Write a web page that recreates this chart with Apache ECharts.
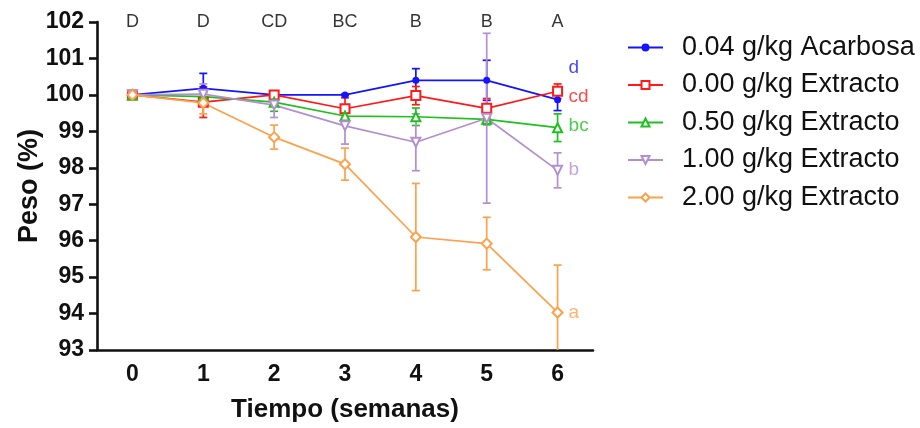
<!DOCTYPE html>
<html lang="es">
<head>
    <meta charset="UTF-8">
    <title>Peso (%)</title>
    <script src="https://cdn.jsdelivr.net/npm/echarts@6/dist/echarts.min.js"></script>
</head>
<body style="margin:0;background:#fff;">

<div id="main" style="width: 920px;height:428px;"></div>

<script type="text/javascript">
    // semanas
    var weeks = ['0', '1', '2', '3', '4', '5', '6'];
    var groupNames = ['0.04 g/kg Acarbosa', '0.00 g/kg Extracto', '0.50 g/kg Extracto', '1.00 g/kg Extracto', '2.00 g/kg Extracto'];

    // peso medio (%) y error de cada grupo
    var acarbosa = [100, 100.18, 100, 100, 100.4, 100.4, 99.87];
    var acarbosaErr = [0, 0.41, 0.02, 0.02, 0.32, 0.55, 0.3];
    var ext000 = [100, 99.8, 100, 99.62, 99.98, 99.63, 100.1];
    var ext000Err = [0, 0.42, 0.05, 0.3, 0.25, 0.27, 0.2];
    var ext050 = [100, 99.95, 99.8, 99.42, 99.4, 99.33, 99.1];
    var ext050Err = [0, 0.1, 0.25, 0.2, 0.24, 0.15, 0.38];
    var ext100 = [100, 100.02, 99.72, 99.15, 98.7, 99.36, 97.93];
    var ext100Err = [0, 0.28, 0.34, 0.5, 0.78, 2.33, 0.48];
    var ext200 = [100, 99.78, 98.84, 98.1, 96.1, 95.92, 94.03];
    var ext200Err = [0, 0.3, 0.33, 0.44, 1.47, 0.72, 1.3];

    // letras de significancia
    var weekLetters = ['D', 'D', 'CD', 'BC', 'B', 'B', 'A'];
    var groupLetters = ['d', 'cd', 'bc', 'b', 'a'];
    var groupLetterY = [100.74, 99.94, 99.15, 97.94, 94.01];

    var means = [acarbosa, ext000, ext050, ext100, ext200];
    var errs = [acarbosaErr, ext000Err, ext050Err, ext100Err, ext200Err];
    var colors = ['#1414ff', '#ff1a1a', '#1ec01e', '#b48ed2', '#ffa04a'];
    var symbols = ['circle', 'emptyRect', 'emptyTriangle', 'emptyTriangle', 'emptyDiamond'];
    var symbolSizes = [7, 9, 9, 9, 10];
    var symbolRotates = [0, 0, 0, 180, 0];

    var font = 'Liberation Sans, Arial, sans-serif';

    var myChart = echarts.init(document.getElementById('main'));

    var series = [];

    // barras de error
    for (var g = 0; g < means.length; g++) {
        var errData = [];
        for (var i = 0; i < weeks.length; i++) {
            errData.push([i, means[g][i] - errs[g][i], means[g][i] + errs[g][i]]);
        }
        series.push({
            type: 'custom',
            name: groupNames[g] + ' err',
            clip: true,
            z: 2,
            data: errData,
            renderItem: (function (col) {
                return function (params, api) {
                    var lo = api.coord([api.value(0), api.value(1)]);
                    var hi = api.coord([api.value(0), api.value(2)]);
                    var w = 4;
                    var st = {stroke: col, lineWidth: 1.7};
                    return {
                        type: 'group',
                        children: [
                            {type: 'line', shape: {x1: lo[0], y1: lo[1], x2: hi[0], y2: hi[1]}, style: st},
                            {type: 'line', shape: {x1: lo[0] - w, y1: lo[1], x2: lo[0] + w, y2: lo[1]}, style: st},
                            {type: 'line', shape: {x1: hi[0] - w, y1: hi[1], x2: hi[0] + w, y2: hi[1]}, style: st}
                        ]
                    };
                };
            })(colors[g])
        });
    }

    // lineas
    for (var g = 0; g < means.length; g++) {
        series.push({
            type: 'line',
            name: groupNames[g],
            data: means[g],
            color: colors[g],
            symbol: symbols[g],
            symbolSize: symbolSizes[g],
            symbolRotate: symbolRotates[g],
            showAllSymbol: true,
            z: 3,
            lineStyle: {width: 1.7, color: colors[g]},
            itemStyle: {color: colors[g], borderWidth: 1.5}
        });
    }

    // letras arriba
    series.push({
        type: 'scatter',
        name: 'letrasSemana',
        symbolSize: 0,
        clip: false,
        silent: true,
        data: weekLetters.map(function (l, i) { return {value: [i, 102], label: {formatter: l}}; }),
        label: {show: true, position: 'inside', color: '#000', fontSize: 18, fontFamily: font}
    });

    // letras a la derecha
    series.push({
        type: 'scatter',
        name: 'letrasGrupo',
        symbolSize: 0,
        clip: false,
        silent: true,
        data: groupLetters.map(function (l, i) {
            return {value: [6, groupLetterY[i]], label: {formatter: l, color: colors[i]}};
        }),
        label: {show: true, position: 'right', distance: 11, fontSize: 19, fontFamily: font}
    });

    var option = {
        animation: false,
        backgroundColor: '#fff',
        grid: {left: 97, top: 22, width: 496, height: 328},
        legend: {
            data: groupNames,
            orient: 'vertical',
            left: 622,
            top: 29,
            itemWidth: 35,
            itemHeight: 10,
            itemGap: 10.5,
            textStyle: {fontSize: 27, color: '#111', fontFamily: font, padding: [0, 0, 0, 14]}
        },
        xAxis: {
            type: 'category',
            data: weeks,
            boundaryGap: true,
            name: 'Tiempo (semanas)',
            nameLocation: 'middle',
            nameGap: 47,
            nameMoveOverlap: false,
            nameTextStyle: {fontSize: 26, fontWeight: 'bold', color: '#111', fontFamily: font},
            axisLine: {lineStyle: {color: '#111', width: 2.6}},
            axisTick: {alignWithLabel: true, length: 8, lineStyle: {color: '#111', width: 2.6}},
            axisLabel: {margin: 13, fontSize: 23, fontWeight: 'bold', color: '#111', fontFamily: font},
            splitLine: {show: false}
        },
        yAxis: {
            type: 'value',
            min: 93,
            max: 102,
            interval: 1,
            name: 'Peso (%)',
            nameLocation: 'middle',
            nameGap: 54,
            nameMoveOverlap: false,
            nameTextStyle: {fontSize: 27, fontWeight: 'bold', color: '#111', fontFamily: font},
            axisLine: {show: true, lineStyle: {color: '#111', width: 2.6}},
            axisTick: {show: true, length: 8, lineStyle: {color: '#111', width: 2.6}},
            axisLabel: {margin: 13, fontSize: 23, fontWeight: 'bold', color: '#111', fontFamily: font},
            splitLine: {show: false}
        },
        series: series
    };

    myChart.setOption(option);
</script>
</body>
</html>
